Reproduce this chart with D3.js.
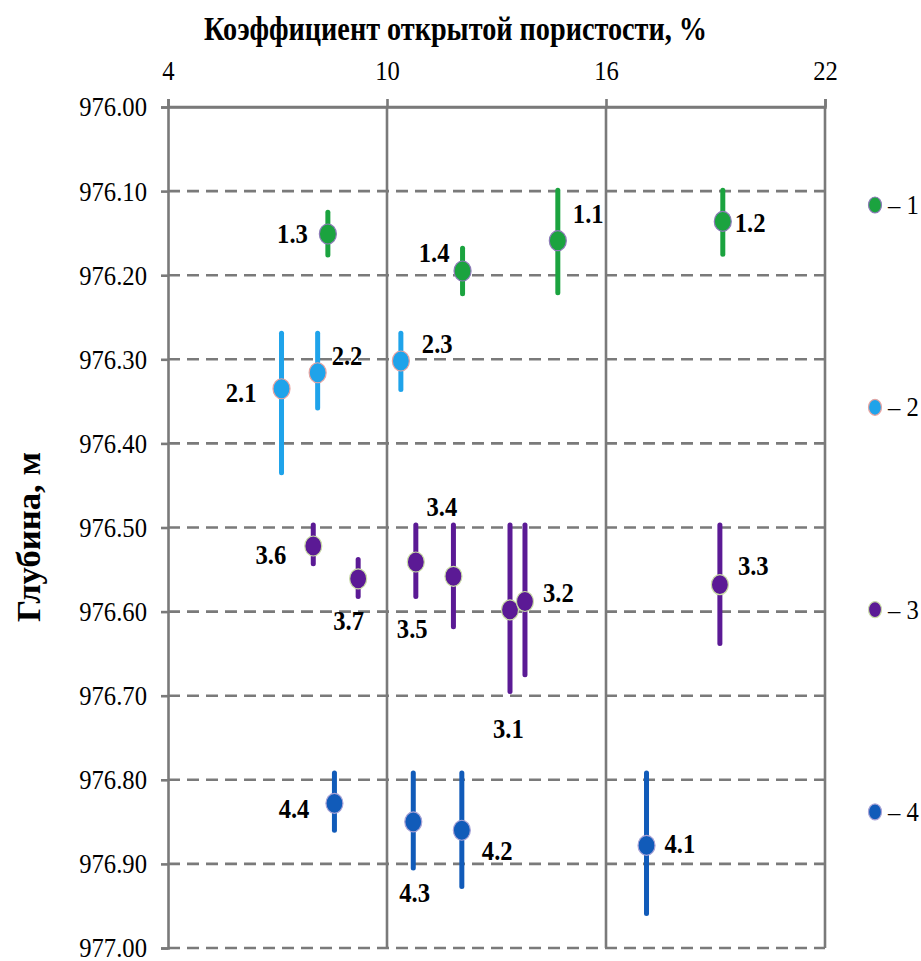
<!DOCTYPE html>
<html lang="ru">
<head>
    <meta charset="UTF-8">
    <title>Глубина / пористость</title>
    <script src="https://d3js.org/d3.v7.min.js"></script>
    <style>
        body { margin: 0; background: #fff; }
        svg text { font-family: "Liberation Serif", "Times New Roman", Times, "DejaVu Serif", serif; fill: #000; }
    </style>
</head>
<body>
    <script>
        // data
        let seriesNames = ["1", "2", "3", "4"];
        let sampleLabels = ["1.1", "1.2", "1.3", "1.4", "2.1", "2.2", "2.3",
            "3.1", "3.2", "3.3", "3.4", "3.5", "3.6", "3.7", "4.1", "4.2", "4.3", "4.4"];
        let sampleSeries = [0, 0, 0, 0, 1, 1, 1, 2, 2, 2, 2, 2, 2, 2, 3, 3, 3, 3];
        let porosity = [14.68, 19.20, 8.38, 12.07, 7.11, 8.10, 10.38,
            13.37, 13.78, 19.12, 11.82, 10.79, 7.98, 9.21, 17.11, 12.05, 10.72, 8.56];
        let depth = [976.159, 976.136, 976.151, 976.195, 976.335, 976.316, 976.302,
            976.598, 976.588, 976.568, 976.558, 976.541, 976.522, 976.561,
            976.878, 976.860, 976.850, 976.828];
        let depthTop = [976.099, 976.099, 976.125, 976.168, 976.269, 976.269, 976.269,
            976.497, 976.497, 976.497, 976.497, 976.497, 976.497, 976.538,
            976.792, 976.792, 976.792, 976.792];
        let depthBottom = [976.221, 976.175, 976.176, 976.222, 976.435, 976.358, 976.336,
            976.695, 976.675, 976.638, 976.618, 976.582, 976.543, 976.582,
            976.959, 976.927, 976.905, 976.860];
        let xTicks = [4, 10, 16, 22];
        let yTicks = [976.0, 976.1, 976.2, 976.3, 976.4, 976.5, 976.6, 976.7, 976.8, 976.9, 977.0];

        // styles
        let serif = '"Liberation Serif", "Times New Roman", Times, "DejaVu Serif", serif';
        let fills = ["#1ba33f", "#1fa3ea", "#5b1a95", "#115bb9"];
        let outlines = ["#8c7ab8", "#e6a3a0", "#c9dca6", "#a9a3d6"];
        let grid = "#7a7a7a";
        // label offsets from the dot: [dx, dy, anchor]
        let labelPos = {
            "1.1": [15, -18, "start"], "1.2": [12, 11, "start"], "1.3": [-20, 9, "end"], "1.4": [-13, -9, "end"],
            "2.1": [-25, 13, "end"], "2.2": [14, -8, "start"], "2.3": [21, -8, "start"],
            "3.1": [-17, 128, "start"], "3.2": [18, 0, "start"], "3.3": [18, -10, "start"],
            "3.4": [-27, -60, "start"], "3.5": [-19, 76, "start"], "3.6": [-27, 18, "end"],
            "3.7": [-25, 51, "start"],
            "4.1": [18, 8, "start"], "4.2": [20, 30, "start"], "4.3": [-14, 80, "start"], "4.4": [-25, 15, "end"]
        };

        let width = 921, height = 961;
        let plotLeft = 168, plotRight = 825, plotTop = 107, plotBottom = 948;
        let sx = 0.88; // glyphs in the picture are narrow

        let x = d3.scaleLinear().domain([4, 22]).range([plotLeft, plotRight]);
        let y = d3.scaleLinear().domain([976, 977]).range([plotTop, plotBottom]);

        let svg = d3.select('body').append('svg')
            .attr('width', width)
            .attr('height', height);

        // horizontal grid (dashed), top edge solid
        svg.append('g').selectAll('line').data(yTicks.slice(1)).enter().append('line')
            .attr('x1', plotLeft).attr('x2', plotRight)
            .attr('y1', d => y(d)).attr('y2', d => y(d))
            .style('stroke', grid).style('stroke-width', 2.6)
            .style('stroke-dasharray', '12,7');
        svg.append('line')
            .attr('x1', plotLeft).attr('x2', plotRight).attr('y1', plotTop).attr('y2', plotTop)
            .style('stroke', grid).style('stroke-width', 2.6);
        // vertical grid, solid
        svg.append('g').selectAll('line').data(xTicks.slice(1)).enter().append('line')
            .attr('x1', d => x(d)).attr('x2', d => x(d))
            .attr('y1', plotTop).attr('y2', plotBottom)
            .style('stroke', grid).style('stroke-width', 2.6);

        // axes
        let xAxis = svg.append('g').attr('transform', `translate(0,${plotTop})`)
            .call(d3.axisTop(x).tickValues(xTicks).tickSize(8).tickPadding(19).tickFormat(d3.format('d')));
        let yAxis = svg.append('g').attr('transform', `translate(${plotLeft},0)`)
            .call(d3.axisLeft(y).tickValues(yTicks).tickSize(7).tickPadding(16.9).tickFormat(d3.format('.2f')));
        [xAxis, yAxis].forEach(a => {
            a.attr('font-family', null).attr('font-size', null);
            a.select('.domain').style('stroke', grid).style('stroke-width', 2.6);
            a.selectAll('.tick line').style('stroke', grid).style('stroke-width', 2.6);
            a.selectAll('.tick text')
                .style('font-family', serif)
                .style('font-size', '28px').style('fill', '#000')
                .attr('transform', `scale(${sx},1)`);
        });
        yAxis.selectAll('.tick text').attr('dy', '0.32em');
        xAxis.selectAll('.tick text').attr('dy', 0);

        // error bars
        let idx = d3.range(sampleLabels.length);
        svg.append('g').selectAll('line').data(idx).enter().append('line')
            .attr('x1', i => x(porosity[i])).attr('x2', i => x(porosity[i]))
            .attr('y1', i => y(depthTop[i])).attr('y2', i => y(depthBottom[i]))
            .style('stroke', i => fills[sampleSeries[i]])
            .style('stroke-width', 5)
            .style('stroke-linecap', 'round');

        // points
        svg.append('g').selectAll('ellipse').data(idx).enter().append('ellipse')
            .attr('cx', i => x(porosity[i])).attr('cy', i => y(depth[i]))
            .attr('rx', 8.5).attr('ry', 10)
            .style('fill', i => fills[sampleSeries[i]])
            .style('stroke', i => outlines[sampleSeries[i]])
            .style('stroke-width', 1.2);

        // point labels
        svg.append('g').selectAll('text').data(idx).enter().append('text')
            .attr('transform', i => {
                let p = labelPos[sampleLabels[i]];
                return `translate(${x(porosity[i]) + p[0]},${y(depth[i]) + p[1]}) scale(${sx},1)`;
            })
            .attr('text-anchor', i => labelPos[sampleLabels[i]][2])
            .style('font-family', serif)
            .style('font-size', '28px').style('font-weight', 'bold')
            .text(i => sampleLabels[i]);

        // titles
        svg.append('text')
            .attr('x', 204).attr('y', 40)
            .attr('textLength', 503).attr('lengthAdjust', 'spacingAndGlyphs')
            .style('font-family', serif)
            .style('font-size', '33px').style('font-weight', 'bold')
            .text('Коэффициент открытой пористости, %');
        svg.append('text')
            .attr('transform', 'translate(40,622) rotate(-90)')
            .attr('textLength', 170).attr('lengthAdjust', 'spacingAndGlyphs')
            .style('font-family', serif)
            .style('font-size', '33px').style('font-weight', 'bold')
            .text('Глубина, м');

        // legend
        let legend = svg.append('g').selectAll('g').data(seriesNames).enter().append('g')
            .attr('transform', (d, i) => `translate(875,${205 + i * 202.3})`);
        legend.append('ellipse')
            .attr('rx', 6.5).attr('ry', 8)
            .style('fill', (d, i) => fills[i])
            .style('stroke', (d, i) => outlines[i]).style('stroke-width', 1.2);
        legend.append('text')
            .attr('transform', `translate(13,9) scale(${sx},1)`)
            .style('font-family', serif)
            .style('font-size', '28px')
            .text(d => '– ' + d);
    </script>
</body>
</html>
